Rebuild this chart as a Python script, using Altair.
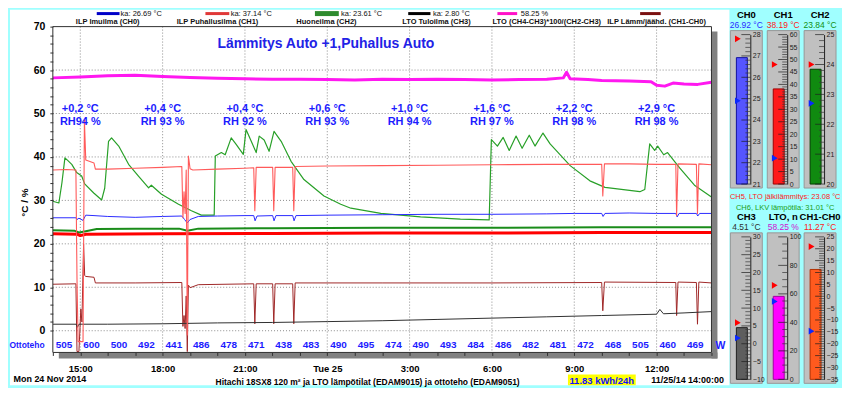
import altair as alt
import numpy as np
import pandas as pd

FONT = "Liberation Sans"
BG = "#a0ffff"
TXT_BLUE = "#1c1cff"

# ---------------- main plot geometry / axes ----------------
W, H = 661, 327
X_DOMAIN = [0, 24]          # hours from Mon 24 Nov 2014 14:00
Y_DOMAIN = [-5, 70]
X_TICK_HOURS = [1, 4, 7, 10, 13, 16, 19, 22]
X_TICK_LABELS = ["15:00", "18:00", "21:00", "Tue 25", "3:00", "6:00", "9:00", "12:00"]
GRID_Y = [0, 10, 20, 30, 40, 50, 60]

# ---------------- series (hours, value) ----------------
CH0_H = [0, 0.84, 0.88, 0.95, 1.1, 1.2, 1.5, 2, 3, 4, 4.7, 4.8, 4.9, 5.0, 5.3, 6, 7, 7.32, 7.37, 7.44, 8.01, 8.06, 8.13, 8.74, 8.79, 8.86, 10, 12, 14, 16, 18, 19, 20.0, 20.05, 20.12, 21, 22, 22.7, 22.75, 22.82, 23.45, 23.5, 23.57, 24]
CH0_V = [26.0, 26.0, 25.6, 25.9, 25.4, 26.6, 26.5, 26.3, 26.1, 26.3, 26.4, 25.6, 24.8, 25.6, 26.3, 26.4, 26.5, 26.5, 25.3, 26.4, 26.5, 25.3, 26.5, 26.5, 25.3, 26.5, 26.6, 26.7, 26.8, 26.8, 26.9, 27.0, 27.0, 26.3, 27.0, 27.1, 27.0, 27.0, 26.2, 27.0, 27.0, 26.4, 27.0, 27.0]

CH1_H = [0, 0.5, 0.84, 0.88, 0.92, 1.1, 1.15, 1.2, 1.5, 1.55, 2, 3, 4, 4.7, 4.74, 4.78, 4.82, 4.86, 4.9, 4.94, 5.0, 5.1, 6, 7, 7.32, 7.36, 7.41, 8.01, 8.05, 8.1, 8.74, 8.78, 8.83, 10, 12, 14, 16, 18, 20.0, 20.04, 20.1, 21, 22, 22.7, 22.73, 22.78, 23.45, 23.49, 23.54, 24]
CH1_V = [37.0, 37.1, 37.0, 12.0, -2.5, -2.5, 48.5, 39.3, 38.6, 37.2, 37.2, 37.4, 37.6, 37.8, 26.0, 32.0, 27.0, 37.0, -1.0, 40.2, 37.3, 37.0, 37.2, 37.4, 37.5, 27.6, 37.6, 37.6, 27.6, 37.6, 37.6, 27.6, 37.8, 37.9, 38.0, 38.1, 38.2, 38.3, 38.3, 31.0, 38.4, 38.4, 38.3, 38.3, 26.5, 38.4, 38.3, 27.0, 38.4, 38.2]

CH2_H = [0, 0.8, 0.95, 1.2, 1.6, 3, 4.6, 4.9, 5.3, 8, 12, 16, 20, 24]
CH2_V = [23.1, 23.0, 22.6, 22.9, 23.4, 23.5, 23.5, 23.0, 23.5, 23.6, 23.7, 23.7, 23.8, 23.8]

CH3_H = [0, 0.85, 0.9, 0.95, 2, 4, 6, 8, 10, 12, 14, 16, 18, 20, 22.0, 22.12, 22.25, 23, 24]
CH3_V = [1.5, 1.5, 0.8, 1.5, 1.5, 1.6, 1.8, 1.9, 2.1, 2.3, 2.6, 2.9, 3.2, 3.5, 3.8, 4.9, 3.9, 4.1, 4.4]

LTO_H = [0, 1, 2, 3, 4, 5, 6, 7, 8, 9, 10, 11, 12, 13, 14, 15, 16, 17, 18, 18.6, 18.72, 18.85, 19.5, 20, 21, 21.8, 22.0, 22.3, 22.6, 23, 23.5, 24]
LTO_V = [58.2, 58.4, 58.7, 58.8, 58.5, 58.3, 58.1, 58.0, 57.9, 57.9, 57.8, 57.7, 57.9, 57.8, 57.9, 57.8, 57.7, 57.8, 57.9, 58.2, 59.5, 58.0, 57.8, 57.6, 57.5, 57.3, 56.5, 56.3, 57.0, 56.8, 56.7, 57.2]

DIFF_H = [0, 0.84, 0.88, 0.95, 1.02, 1.06, 1.12, 1.16, 1.2, 1.5, 1.55, 3, 4.7, 4.74, 4.78, 4.82, 4.86, 4.9, 4.94, 5.0, 5.3, 7.32, 7.36, 7.41, 8.01, 8.05, 8.1, 8.74, 8.78, 8.83, 12, 16, 20.0, 20.04, 20.1, 22.7, 22.73, 22.78, 23.45, 23.49, 23.54, 24]
DIFF_V = [10.7, 10.8, -4.8, -4.8, 5.0, 2.0, 20.0, 12.7, 12.5, 12.3, 11.0, 11.0, 11.1, 1.0, 3.5, 0.5, 8.0, -4.8, 10.5, 9.9, 10.6, 10.8, 1.6, 10.8, 10.8, 1.6, 10.8, 10.8, 1.6, 11.0, 11.0, 11.0, 11.1, 4.6, 11.2, 11.1, 3.5, 11.2, 11.1, 1.5, 11.2, 11.0]

CH5_H = [0, 0.9, 1.0, 1.2, 4, 8, 12, 16, 20, 24]
CH5_V = [22.3, 22.2, 21.9, 22.2, 22.3, 22.4, 22.5, 22.5, 22.6, 22.6]

CH6_H = [0, 0.22, 0.33, 0.44, 0.54, 0.69, 0.87, 1.05, 1.16, 1.49, 1.78, 1.89, 2.03, 2.14, 2.40, 2.76, 3.12, 3.49, 3.59, 3.96, 4.58, 5.05, 5.41, 5.88, 5.92, 6.14, 6.28, 6.50, 6.68, 6.94, 7.04, 7.23, 7.41, 7.52, 7.70, 7.88, 8.06, 8.32, 8.68, 9.15, 9.88, 10.49, 10.86, 11.95, 13.4, 14.85, 15.9, 15.98, 16.2, 16.41, 16.63, 16.88, 17.1, 17.36, 17.57, 17.86, 18.12, 18.85, 19.57, 20.12, 21.39, 21.57, 21.75, 21.93, 22.04, 22.26, 22.4, 22.84, 23.38, 24.0]
CH6_V = [29.8, 29.4, 34.0, 39.8, 39.2, 38.3, 36.4, 35.6, 33.8, 31.7, 30.1, 32.8, 43.6, 44.4, 42.5, 38.3, 35.6, 32.9, 33.5, 31.4, 29.1, 27.6, 26.6, 26.6, 40.2, 41.0, 40.5, 44.4, 42.9, 40.6, 46.3, 43.6, 41.0, 44.8, 43.9, 41.3, 45.9, 43.6, 39.0, 34.8, 31.0, 29.1, 28.2, 27.0, 26.2, 25.7, 25.5, 44.0, 42.5, 44.5, 41.5, 44.8, 42.0, 45.0, 42.5, 45.5, 43.0, 38.0, 34.5, 33.0, 32.0, 32.5, 43.0, 41.5, 42.5, 40.5, 41.0, 37.5, 33.5, 30.8]

# hourly input power (W)
OTTO = [505, 600, 500, 492, 441, 486, 478, 471, 438, 483, 490, 495, 474, 490, 493, 484, 486, 482, 481, 472, 468, 505, 460, 469]

# annotations every 3 h
ANN_DT = ["+0,2 °C", "+0,4 °C", "+0,4 °C", "+0,6 °C", "+1,0 °C", "+1,6 °C", "+2,2 °C", "+2,9 °C"]
ANN_RH = ["RH94 %", "RH 93 %", "RH 92 %", "RH 93 %", "RH 94 %", "RH 97 %", "RH 98 %", "RH 98 %"]

TITLE = "Lämmitys Auto +1,Puhallus Auto"

# legend
LEG_NAMES = ["ILP Imuilma (CH0)", "ILP Puhallusilma (CH1)", "Huoneilma (CH2)", "LTO Tuloilma (CH3)", "LTO (CH4-CH3)*100/(CH2-CH3)", "ILP Lämm/jäähd. (CH1-CH0)"]
LEG_KA = ["ka: 26.69 °C", "ka: 37.14 °C", "ka: 23.61 °C", "ka: 2.80 °C", "58.25 %", ""]
LEG_NAME_X = [2.0, 6.0, 9.97, 13.98, 18.0, 22.0]
LEG_SW_X1 = [1.6, 5.56, 9.55, 12.95, 16.2, 21.4]
LEG_SW_X2 = [2.43, 6.43, 10.42, 13.76, 16.92, 22.15]
LEG_KA_X = [2.47, 6.48, 10.5, 13.85, 17.05, 22.3]
LEG_COLORS = ["#0000c8", "#e03838", "#2e8b2e", "#000000", "#ff10c8", "#7a1010"]
LEG_SW_W = [3, 3, 5, 3, 3, 3]

BOTTOM_TEXT = ["Mon 24 Nov 2014", "Hitachi 18SX8 120 m² ja LTO lämpötilat (EDAM9015) ja ottoteho (EDAM9051)", "11.83 kWh/24h", "11/25/14 14:00:00"]
BOTTOM_X = [-0.11, 11.47, 20.0, 23.13]
BOTTOM_Y = [-11.1, -11.75, -11.55, -11.3]
BOTTOM_SIZE = [9, 8.5, 9.5, 9]
BOTTOM_COLOR = ["#000000", "#000000", "#1010ff", "#000000"]

# gauges
GAUGES_TOP = [
    dict(name="CH0", vtxt="26.92 °C", vcol="#2a2aff", lo=21, hi=28, val=26.92, fill="#5555ff", edge="#1010a0",
         red=27.8, blue=24.9, major=[21, 22, 23, 24, 25, 26, 27, 28], minor=0.2),
    dict(name="CH1", vtxt="38.19 °C", vcol="#ff2020", lo=0, hi=60, val=38.19, fill="#ff1a1a", edge="#a00000",
         red=48.0, blue=10.4, major=[0, 5, 10, 15, 20, 25, 30, 35, 40, 45, 50, 55, 60], minor=1),
    dict(name="CH2", vtxt="23.84 °C", vcol="#109010", lo=20, hi=25, val=23.84, fill="#108a10", edge="#004000",
         red=24.0, blue=22.7, major=[20, 21, 22, 23, 24, 25], minor=0.2),
]
GAUGES_BOTTOM = [
    dict(name="CH3", vtxt="4.51 °C", vcol="#303030", lo=-10, hi=30, val=4.51, fill="#5e5e5e", edge="#202020",
         red=5.9, blue=1.6, major=[-10, -5, 0, 5, 10, 15, 20, 25, 30], minor=1),
    dict(name="LTO, n", vtxt="58.25 %", vcol="#d010d0", lo=0, hi=100, val=58.25, fill="#ff00ff", edge="#a000a0",
         red=66, blue=54.7, major=[0, 20, 40, 60, 80, 100], minor=5),
    dict(name="CH1-CH0", vtxt="11.27 °C", vcol="#ff2020", lo=-35, hi=25, val=11.27, fill="#ff5a1e", edge="#b03000",
         red=20.9, blue=-14.7, major=[-35, -30, -25, -20, -15, -10, -5, 0, 5, 10, 15, 20, 25], minor=1),
]
MID_TEXT = ["CH5, LTO jälkilämmitys: 23.08 °C", "CH6, LKV lämpötila: 31.01 °C"]
MID_COLOR = ["#ff2020", "#18a018"]

# ---------------- helpers ----------------
ONE = pd.DataFrame({"k": [0]})
XS = alt.Scale(domain=X_DOMAIN, nice=False, zero=False)
YS = alt.Scale(domain=Y_DOMAIN, nice=False, zero=False)
x_expr = "".join(f"datum.value == {h} ? '{l}' : " for h, l in zip(X_TICK_HOURS, X_TICK_LABELS)) + "''"
XAXIS = alt.Axis(values=list(range(0, 25)), labelExpr=x_expr, grid=False, domain=False, ticks=True,
                 tickSize=3, tickColor="#303030", labelFontSize=9.5, labelFontWeight="bold",
                 labelColor="black", labelPadding=8, labelOverlap=False, labelFlush=False,
                 title=None, zindex=1)
YAXIS = alt.Axis(values=list(range(0, 71, 2)), labelExpr="datum.value % 10 == 0 ? datum.label : ''",
                 grid=False, domain=False, tickSize=3, tickColor="#303030", labelFontSize=10.5,
                 labelFontWeight="bold", labelColor="black", labelPadding=5, labelOverlap=False,
                 title="°C / %", titleFontSize=10, titleFontWeight="bold", titleColor="black",
                 titleY=176, zindex=1)


def X(f):
    return alt.X(f"{f}:Q", scale=XS, axis=XAXIS)


def Y(f):
    return alt.Y(f"{f}:Q", scale=YS, axis=YAXIS)


def line(hs, vs, color, width):
    df = pd.DataFrame({"h": hs, "v": vs})
    return alt.Chart(df).mark_line(color=color, strokeWidth=width, clip=True, strokeJoin="round").encode(
        x=X("h"), y=Y("v"))


def deco_rect(x1, x2, y1, y2, **kw):
    return alt.Chart(ONE).mark_rect(**kw).encode(
        x=alt.value(x1), x2=alt.value(x2), y=alt.value(y1), y2=alt.value(y2))


# ---------------- main layers ----------------
white = deco_rect(-43, 679, -17, 360, fill="white")
shadow_r = deco_rect(W, W + 6, 5, H + 6, fill="#808080")
shadow_b = deco_rect(6, W + 6, H, H + 6, fill="#808080")
border = deco_rect(0, W, 0, H, fillOpacity=0, stroke="#303030", strokeWidth=1)

grid_y = alt.Chart(pd.DataFrame({"v": GRID_Y})).mark_rule(color="#8c8c8c", strokeDash=[1, 2]).encode(y=Y("v"))
grid_x = alt.Chart(pd.DataFrame({"h": X_TICK_HOURS})).mark_rule(color="#8c8c8c", strokeDash=[1, 2]).encode(x=X("h"))

lines = [
    line(CH6_H, CH6_V, "#28a028", 1.2),
    line(CH0_H, CH0_V, "#2b2bff", 1),
    line(CH2_H, CH2_V, "#1a8c1a", 2),
    line(CH5_H, CH5_V, "#ff0000", 3),
    line(DIFF_H, DIFF_V, "#a02828", 1),
    line(CH3_H, CH3_V, "#303030", 1),
    line(LTO_H, LTO_V, "#ff18f0", 3),
    line(CH1_H, CH1_V, "#ff5a5a", 1.1),
]

ann = pd.DataFrame({"h": X_TICK_HOURS, "dt": ANN_DT, "rh": ANN_RH,
                    "y1": [51.0] * len(ANN_DT), "y2": [48.0] * len(ANN_DT)})
ann1 = alt.Chart(ann).mark_text(color=TXT_BLUE, fontSize=11, fontWeight="bold").encode(x=X("h"), y=Y("y1"), text="dt:N")
ann2 = alt.Chart(ann).mark_text(color=TXT_BLUE, fontSize=11, fontWeight="bold").encode(x=X("h"), y=Y("y2"), text="rh:N")

title_df = pd.DataFrame({"h": [9.95], "v": [65.9], "t": [TITLE]})
title_l = alt.Chart(title_df).mark_text(color="#2222e6", fontSize=14, fontWeight="bold").encode(x=X("h"), y=Y("v"), text="t:N")

otto_df = pd.DataFrame({"h": [i + 0.41 for i in range(len(OTTO))], "v": [-3.2] * len(OTTO), "t": [str(o) for o in OTTO]})
otto_l = alt.Chart(otto_df).mark_text(color=TXT_BLUE, fontSize=10, fontWeight="bold").encode(x=X("h"), y=Y("v"), text="t:N")

side_df = pd.DataFrame({"h": [-0.94, 24.33], "v": [-3.2, -3.6], "t": ["Ottoteho", "W"], "s": [8.5, 10.5]})
side_l = alt.Chart(side_df).mark_text(color=TXT_BLUE, fontWeight="bold").encode(
    x=X("h"), y=Y("v"), text="t:N", size=alt.Size("s:Q", scale=None))

leg = pd.DataFrame({"name": LEG_NAMES, "nx": LEG_NAME_X, "ka": LEG_KA, "kx": LEG_KA_X,
                    "s1": LEG_SW_X1, "s2": LEG_SW_X2, "col": LEG_COLORS, "sw": LEG_SW_W,
                    "ny": [71.15] * 6, "ky": [73.0] * 6})
leg_sw = alt.Chart(leg).mark_rule().encode(
    x=X("s1"), x2=alt.X2("s2"), y=Y("ky"), color=alt.Color("col:N", scale=None),
    strokeWidth=alt.StrokeWidth("sw:Q", scale=None))
leg_ka = alt.Chart(leg).mark_text(align="left", fontSize=7.5, color="#111111").encode(x=X("kx"), y=Y("ky"), text="ka:N")
leg_nm = alt.Chart(leg).mark_text(fontSize=7.5, fontWeight="bold", color="#111111").encode(x=X("nx"), y=Y("ny"), text="name:N")

ybox = pd.DataFrame({"x1": [18.77], "x2": [21.24], "y1": [-10.1], "y2": [-12.55]})
ybox_l = alt.Chart(ybox).mark_rect(fill="#ffff00").encode(x=X("x1"), x2=alt.X2("x2"), y=Y("y1"), y2=alt.Y2("y2"))

bt = pd.DataFrame({"t": BOTTOM_TEXT, "h": BOTTOM_X, "v": BOTTOM_Y, "s": BOTTOM_SIZE, "c": BOTTOM_COLOR})
bt_l = alt.Chart(bt).mark_text(fontWeight="bold").encode(
    x=X("h"), y=Y("v"), text="t:N", size=alt.Size("s:Q", scale=None), color=alt.Color("c:N", scale=None))

main = alt.layer(white, shadow_r, shadow_b, grid_y, grid_x, *lines, border, ann1, ann2, title_l,
                 otto_l, side_l, leg_sw, leg_ka, leg_nm, ybox_l, bt_l).properties(width=W, height=H)


# ---------------- gauges ----------------
GW = 17


def gauge(spec, gh, extra=None):
    lo, hi = spec["lo"], spec["hi"]
    ys = alt.Scale(domain=[lo, hi], nice=False, zero=False)
    ya = alt.Axis(orient="right", values=spec["major"], ticks=False, domain=True, domainColor="#202020",
                  grid=False, labelFontSize=7, labelPadding=2, labelColor="#202020", labelOverlap=False,
                  title=None, zindex=1)

    def Yg(f):
        return alt.Y(f"{f}:Q", scale=ys, axis=ya)

    box = deco_rect(-3, 29, -4, gh + 4, fill="#c0c0c0", stroke="#989898", strokeWidth=1)
    bar = alt.Chart(pd.DataFrame({"a": [lo], "b": [spec["val"]]})).mark_rect(
        fill=spec["fill"], stroke=spec["edge"], strokeWidth=1).encode(
        x=alt.value(3), x2=alt.value(14), y=Yg("a"), y2=alt.Y2("b"))
    mn = [float(t) for t in np.arange(lo, hi + 1e-9, spec["minor"])
          if not any(abs(t - m) < 1e-6 for m in spec["major"])]
    minor = alt.Chart(pd.DataFrame({"t": mn})).mark_tick(
        orient="horizontal", color="#383838", size=5, thickness=1).encode(x=alt.value(14.5), y=Yg("t"))
    major = alt.Chart(pd.DataFrame({"t": spec["major"]})).mark_tick(
        orient="horizontal", color="#202020", size=9, thickness=1).encode(x=alt.value(12.5), y=Yg("t"))
    mk = alt.Chart(pd.DataFrame({"v": [spec["red"], spec["blue"]], "c": ["#ff0000", "#0a28ff"]})).mark_point(
        shape="triangle-right", filled=True, size=45, opacity=1).encode(
        x=alt.value(4.5), y=Yg("v"), color=alt.Color("c:N", scale=None))
    layers = [box, bar, minor, major, mk]
    if extra is not None:
        for i, (t, c) in enumerate(extra):
            layers.append(alt.Chart(pd.DataFrame({"t": [t]})).mark_text(
                color=c, fontSize=7.5).encode(x=alt.value(15), y=alt.value(gh + 13 + 11 * i), text="t:N"))
    return alt.layer(*layers).properties(
        width=GW, height=gh,
        title=alt.TitleParams(text=spec["name"], subtitle=spec["vtxt"], fontSize=9.5, fontWeight="bold",
                              color="black", subtitleColor=spec["vcol"], subtitleFontSize=8.5,
                              subtitlePadding=1, anchor="middle", frame="group", dx=4.5, offset=1))


cells = [
    gauge(GAUGES_TOP[0], 150),
    gauge(GAUGES_TOP[1], 150, extra=list(zip(MID_TEXT, MID_COLOR))),
    gauge(GAUGES_TOP[2], 150),
] + [gauge(g, 143) for g in GAUGES_BOTTOM]
grid = alt.concat(*cells, columns=3, spacing={"row": 53, "column": 20}, bounds="flush")
spacer = alt.Chart(ONE).mark_point(opacity=0).encode(x=alt.value(0), y=alt.value(0)).properties(width=GW, height=8)
gauges = alt.vconcat(spacer, grid, spacing=0, bounds="flush")

chart = alt.hconcat(main, gauges, spacing=22, bounds="flush").properties(
    background=BG, padding=0).configure(font=FONT).configure_view(stroke="transparent")

chart.save("out.html", embed_options={"renderer": "svg", "actions": False})
